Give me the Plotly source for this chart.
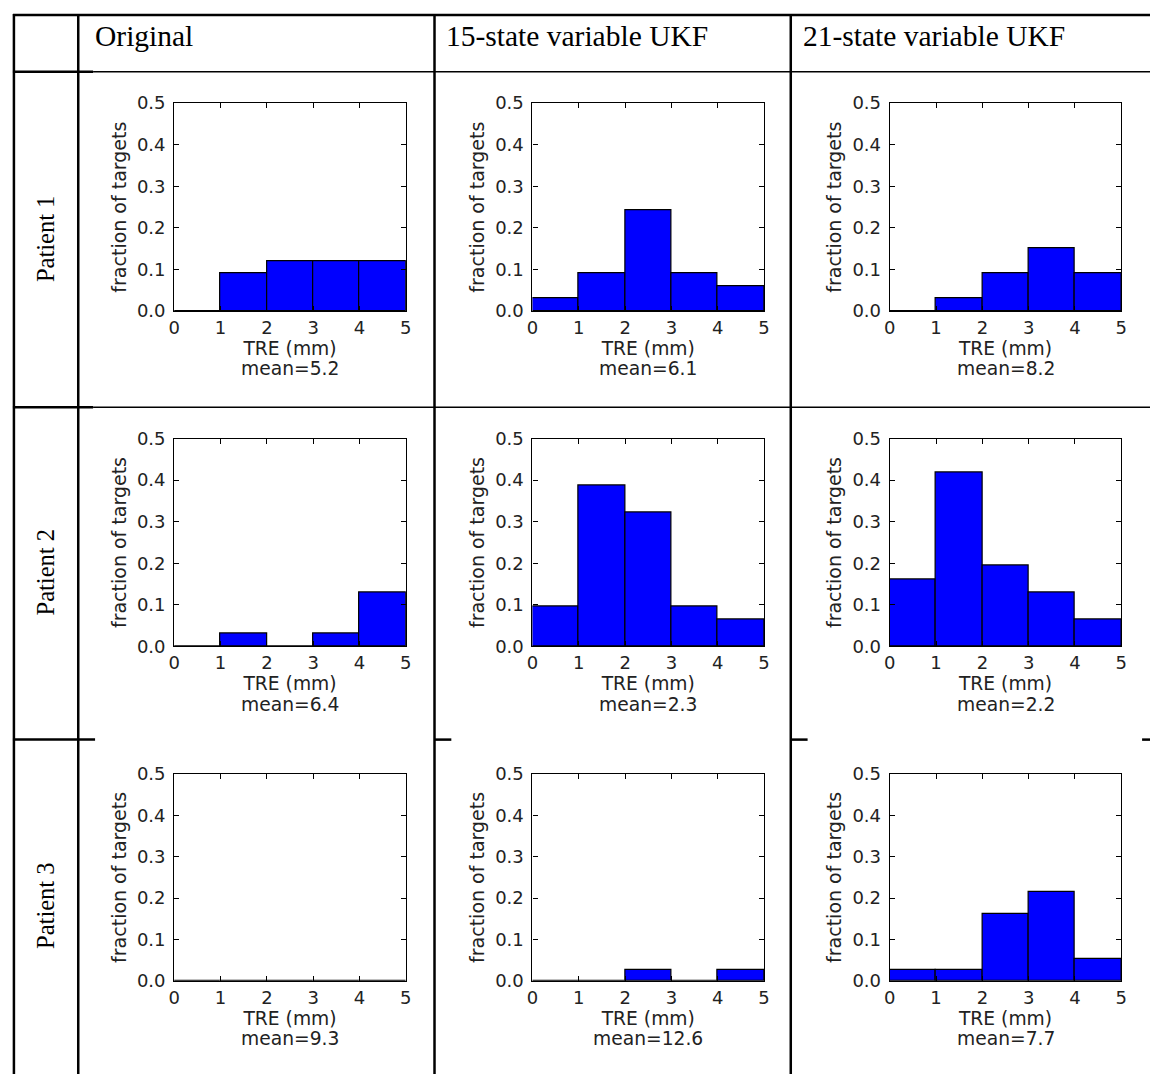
import plotly.graph_objects as go

# ---------------- data ----------------
bin_left = [0, 1, 2, 3, 4]
column_titles = ["Original", "15-state variable UKF", "21-state variable UKF"]
row_titles = ["Patient 1", "Patient 2", "Patient 3"]

p1_original = [0.0, 0.091, 0.121, 0.121, 0.121]
p1_ukf15 = [0.030, 0.091, 0.242, 0.091, 0.061]
p1_ukf21 = [0.0, 0.030, 0.091, 0.152, 0.091]

p2_original = [0.0, 0.032, 0.0, 0.032, 0.129]
p2_ukf15 = [0.097, 0.387, 0.323, 0.097, 0.065]
p2_ukf21 = [0.161, 0.419, 0.194, 0.129, 0.065]

p3_original = [0.0, 0.0, 0.0, 0.0, 0.0]
p3_ukf15 = [0.0, 0.0, 0.027, 0.0, 0.027]
p3_ukf21 = [0.027, 0.027, 0.162, 0.216, 0.054]

means_p1 = [5.2, 6.1, 8.2]
means_p2 = [6.4, 2.3, 2.2]
means_p3 = [9.3, 12.6, 7.7]

x_tick_vals = [0, 1, 2, 3, 4, 5]
y_tick_vals = [0.0, 0.1, 0.2, 0.3, 0.4, 0.5]

panels = [[p1_original, p1_ukf15, p1_ukf21],
          [p2_original, p2_ukf15, p2_ukf21],
          [p3_original, p3_ukf15, p3_ukf21]]
means = [means_p1, means_p2, means_p3]

# ---------------- layout helpers ----------------
W, H = 1156, 1084


def px(x):
    return x / W


def py(y):
    return 1 - y / H


col_px = [(170, 404), (532, 766), (893, 1127)]
row_px = [(94, 306), (436, 648), (778, 989)]

SANS = "DejaVu Sans"
SERIF = "Liberation Serif"
TXT = "#222222"

fig = go.Figure()
layout_axes = {}
annotations = []

for r in range(3):
    for c in range(3):
        k = r * 3 + c + 1
        xa = "x" if k == 1 else f"x{k}"
        ya = "y" if k == 1 else f"y{k}"
        fig.add_trace(go.Bar(
            x=bin_left, y=panels[r][c], width=1, offset=0,
            marker=dict(color="#0000FF", line=dict(color="black", width=1.2)),
            xaxis=xa, yaxis=ya, showlegend=False,
        ))
        x0, x1 = col_px[c]
        y0, y1 = row_px[r]
        xkey = "xaxis" if k == 1 else f"xaxis{k}"
        ykey = "yaxis" if k == 1 else f"yaxis{k}"
        layout_axes[xkey] = dict(
            domain=[px(x0), px(x1)], anchor=ya, range=[0, 5],
            tickvals=x_tick_vals, ticks="inside", ticklen=5, tickcolor="black",
            showline=True, linecolor="black", linewidth=1.2, mirror="ticks",
            showgrid=False, zeroline=False,
            tickfont=dict(family=SANS, size=18, color=TXT),
            title=dict(text="TRE (mm)",
                       font=dict(family=SANS, size=18.7, color=TXT), standoff=4),
        )
        layout_axes[ykey] = dict(
            domain=[py(y1), py(y0)], anchor=xa, range=[0, 0.5],
            tickvals=y_tick_vals, tickformat=".1f", ticks="inside", ticklen=5,
            tickcolor="black", ticklabelstandoff=4,
            showline=True, linecolor="black", linewidth=1.2, mirror="ticks",
            showgrid=False, zeroline=False,
            tickfont=dict(family=SANS, size=18, color=TXT),
            title=dict(text="fraction of targets",
                       font=dict(family=SANS, size=19, color=TXT), standoff=5),
        )
        annotations.append(dict(
            text=f"mean={means[r][c]}", x=px((x0 + x1) / 2), y=py(y1 + 59),
            xref="paper", yref="paper", xanchor="center", yanchor="middle",
            showarrow=False, font=dict(family=SANS, size=18.7, color=TXT)))

# ---------------- table lines ----------------
shapes = []


def hline(y, xa, xb, w):
    shapes.append(dict(type="line", xref="paper", yref="paper",
                       x0=px(xa), x1=px(xb), y0=py(y), y1=py(y),
                       line=dict(color="black", width=w)))


def vline(x, ya, yb, w):
    shapes.append(dict(type="line", xref="paper", yref="paper",
                       x0=px(x), x1=px(x), y0=py(ya), y1=py(yb),
                       line=dict(color="black", width=w)))


hline(4, 7, 1156, 2.5)
hline(62, 7, 88, 2.5)
hline(62, 88, 1156, 1.5)
hline(404, 7, 88, 2.5)
hline(404, 88, 1156, 1.5)
for xa, xb in [(7, 90), (433, 450), (793, 810), (1148, 1156)]:
    hline(743, xa, xb, 2.5)
for x in [8, 73, 433, 793]:
    vline(x, 3, 1084, 2.5)

# ---------------- text ----------------
for c, (xl, title) in enumerate(zip([88, 443, 803], column_titles)):
    annotations.append(dict(text=title, x=px(xl), y=py(25), xref="paper", yref="paper",
                            xanchor="left", yanchor="middle", showarrow=False,
                            font=dict(family=SERIF, size=29.5, color="black")))
for r, (yc, title) in enumerate(zip([233, 573, 913], row_titles)):
    annotations.append(dict(text=title, x=px(40), y=py(yc), xref="paper", yref="paper",
                            xanchor="center", yanchor="middle", showarrow=False,
                            textangle=-90,
                            font=dict(family=SERIF, size=24.5, color="black")))

fig.update_layout(
    width=W, height=H, margin=dict(l=0, r=0, t=0, b=0),
    paper_bgcolor="white", plot_bgcolor="white",
    bargap=0, shapes=shapes, annotations=annotations,
    **layout_axes,
)

fig.write_html("out.html", config={"displayModeBar": False},
               post_script="document.body.style.margin='0';")
